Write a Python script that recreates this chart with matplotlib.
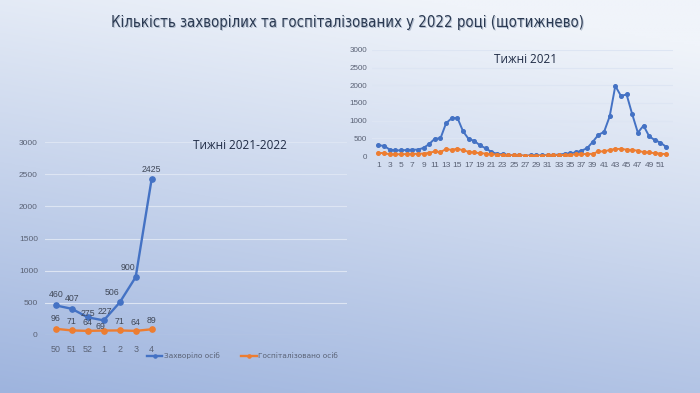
"""Слайд: кількість захворілих та госпіталізованих (щотижнево), два лінійні графіки."""

import numpy as np
import matplotlib.pyplot as plt
from matplotlib import transforms

# ліва діаграма: тижні 2021-2022
weeks_short = ["50", "51", "52", "1", "2", "3", "4"]
sick_short = [460, 407, 275, 227, 506, 900, 2425]
hosp_short = [96, 71, 64, 69, 71, 64, 89]

# права діаграма: тижні 2021
weeks_2021 = list(range(1, 53))
sick_2021 = [300, 290, 180, 160, 160, 170, 180, 180, 230, 340,
             490, 500, 930, 1070, 1080, 700, 480, 430, 300, 220,
             120, 60, 50, 30, 20, 15, 10, 15, 15, 20,
             25, 30, 40, 60, 80, 100, 150, 220, 400, 600,
             680, 1120, 1980, 1700, 1740, 1180, 660, 860, 560, 450,
             380, 260]
hosp_2021 = [90, 80, 50, 50, 50, 55, 60, 60, 70, 90,
             130, 110, 200, 170, 210, 160, 120, 100, 80, 70,
             50, 40, 30, 25, 20, 15, 10, 10, 10, 12,
             15, 20, 25, 30, 40, 45, 50, 60, 60, 130,
             130, 170, 200, 200, 180, 170, 150, 110, 100, 80,
             70, 50]

TITLE = "Кількість захворілих та госпіталізованих у 2022 році (щотижнево)"
BLUE = "#4472c4"
ORANGE = "#ed7d31"
TICK_COLOR = "#5a6275"
GRID_COLOR = "#dde5f3"
NUM_FONT = "Liberation Sans"

fig = plt.figure(figsize=(7, 3.93), dpi=100)

# фон слайда — градієнт від світлого згори до блакитного внизу
bg = fig.add_axes([0, 0, 1, 1], zorder=-10)
yy, xx = np.mgrid[0:1:200j, 0:1:200j]
t = np.clip(0.85 * yy + 0.25 * (1 - xx) - 0.1, 0, 1)
top = np.array([240, 244, 250]) / 255
bottom = np.array([158, 180, 222]) / 255
img = top + (bottom - top) * t[..., None]
bg.imshow(img, aspect="auto", extent=[0, 1, 1, 0])
bg.axis("off")

# заголовок з легкою тінню
shadow = fig.transFigure + transforms.ScaledTranslation(1 / 100, -1 / 100, fig.dpi_scale_trans)
for color, tr in (("#b4bfd0", shadow), ("#2b3a52", fig.transFigure)):
    fig.text(0.497, 0.942, TITLE, ha="center", va="center", fontsize=10.7, color=color,
             family="DejaVu Sans", fontstretch="condensed", transform=tr)


def style_axes(ax):
    ax.set_facecolor("none")
    for s in ax.spines.values():
        s.set_visible(False)
    ax.set_ylim(0, 3000)
    ax.set_yticks(range(0, 3001, 500))
    ax.yaxis.grid(True, color=GRID_COLOR, linewidth=0.8)
    ax.set_axisbelow(True)
    ax.tick_params(length=0, colors=TICK_COLOR)
    for lab in ax.get_xticklabels() + ax.get_yticklabels():
        lab.set_family(NUM_FONT)


# ліва діаграма
ax1 = fig.add_axes([0.064, 0.1476, 0.431, 0.491])
x1 = np.arange(len(weeks_short))
ax1.plot(x1, sick_short, color=BLUE, lw=1.7, marker="o", ms=3.8, label="Захворіло осіб")
ax1.plot(x1, hosp_short, color=ORANGE, lw=1.7, marker="o", ms=3.8, label="Госпіталізовано осіб")
ax1.set_xlim(-0.69, 18.2)
ax1.set_xticks(x1, weeks_short)
style_axes(ax1)
ax1.tick_params(axis="x", labelsize=6.4, pad=7)
ax1.tick_params(axis="y", labelsize=6.0, pad=5)

# зсуви підписів у пікселях
sick_off = [(0, 11), (0, 10), (0, 4), (1, 9), (-8, 10), (-8, 10), (0, 10)]
hosp_off = [(0, 10), (0, 9), (0, 8), (-3, 4), (0, 9), (0, 8), (0, 9)]
for vals, offs in ((sick_short, sick_off), (hosp_short, hosp_off)):
    for i, v in enumerate(vals):
        ax1.annotate(str(v), (x1[i], v), xytext=offs[i], textcoords="offset pixels",
                     ha="center", va="center", fontsize=6.3, color="#404858", family=NUM_FONT)

ax1.text(11.5, 2950, "Тижні 2021-2022", ha="center", va="center", fontsize=8.5,
         color="#1f2b45", family="Open Sans")
leg = ax1.legend(loc="upper center", bbox_to_anchor=(0.655, -0.055), ncol=2, frameon=False,
                 fontsize=5.3, handlelength=2.1, columnspacing=2.9, handletextpad=0.2,
                 markerscale=0.6)
for txt in leg.get_texts():
    txt.set_color(TICK_COLOR)

# права діаграма
ax2 = fig.add_axes([0.532, 0.603, 0.43, 0.27])
ax2.plot(weeks_2021, sick_2021, color=BLUE, lw=1.4, marker="o", ms=2.6)
ax2.plot(weeks_2021, hosp_2021, color=ORANGE, lw=1.4, marker="o", ms=2.6)
ax2.set_xlim(-0.07, 53.3)
ax2.set_xticks(weeks_2021[::2])
style_axes(ax2)
ax2.tick_params(axis="x", labelsize=6.0, pad=4)
ax2.tick_params(axis="y", labelsize=5.8, pad=4)
ax2.text(27.0, 2720, "Тижні 2021", ha="center", va="center", fontsize=8.5,
         color="#1f2b45", family="Open Sans")

fig.savefig("out.png", dpi=100)
